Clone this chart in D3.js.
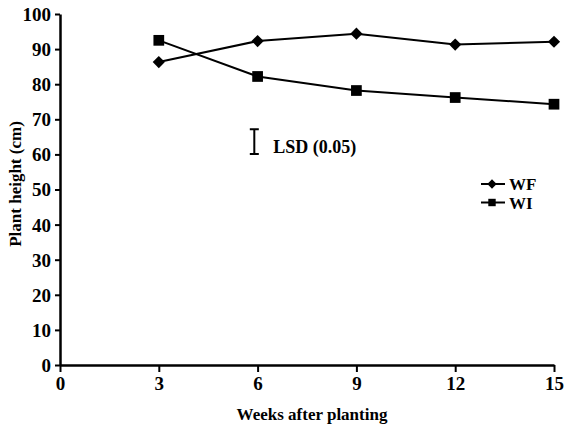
<!DOCTYPE html>
<html>
<head>
<meta charset="utf-8">
<script src="https://cdn.jsdelivr.net/npm/d3@7"></script>
<style>
  body { margin: 0; background: #fff; }
  text { font-family: "Liberation Serif", "Times New Roman", serif; fill: #000; font-weight: bold; }
  .tick text { font-size: 19px; }
</style>
</head>
<body>
<div id="plot"></div>
<script>
const CANVAS_WIDTH  = 576;
const CANVAS_HEIGHT = 428;

const LEFT   = 60;
const RIGHT  = 554;
const TOP    = 14;
const BOTTOM = 365;

// data
const WEEKS     = [3, 6, 9, 12, 15];
const WF_VALUES = [86.3, 92.3, 94.4, 91.3, 92.1];
const WI_VALUES = [92.5, 82.2, 78.2, 76.2, 74.3];
const X_TICKS   = [0, 3, 6, 9, 12, 15];
const Y_TICKS   = [0, 10, 20, 30, 40, 50, 60, 70, 80, 90, 100];
const LSD_WEEK  = 5.9;
const LSD_RANGE = [60.1, 67.2];
const SERIES_NAMES = ["WF", "WI"];

var svg = d3.select("#plot")
            .append("svg")
            .attr("width", CANVAS_WIDTH)
            .attr("height", CANVAS_HEIGHT);

var xScale = d3.scaleLinear().domain([0, 15]).range([LEFT, RIGHT]);
var yScale = d3.scaleLinear().domain([0, 100]).range([BOTTOM, TOP]);

// axes
var xAxis = svg.append("g")
   .attr("transform", "translate(0," + BOTTOM + ")")
   .call(d3.axisBottom(xScale).tickValues(X_TICKS).tickSize(7).tickPadding(3).tickSizeOuter(0));
var yAxis = svg.append("g")
   .attr("transform", "translate(" + LEFT + ",0)")
   .call(d3.axisLeft(yScale).tickValues(Y_TICKS).tickSize(5).tickPadding(4).tickSizeOuter(0));

[xAxis, yAxis].forEach(function(a) {
    a.attr("font-family", null).attr("font-size", 19).attr("font-weight", "bold");
    a.select(".domain").attr("stroke", "#000").attr("stroke-width", 2.5);
    a.selectAll(".tick line").attr("stroke", "#000").attr("stroke-width", 2);
});
yAxis.selectAll(".tick text").attr("dy", "0.34em");
xAxis.selectAll(".tick text").attr("dy", "0.78em");

// series
var line = d3.line()
             .x(function(d, i) { return xScale(WEEKS[i]); })
             .y(function(d) { return yScale(d); });

svg.append("path").datum(WF_VALUES)
   .attr("d", line).attr("fill", "none").attr("stroke", "#000").attr("stroke-width", 2);
svg.append("path").datum(WI_VALUES)
   .attr("d", line).attr("fill", "none").attr("stroke", "#000").attr("stroke-width", 2);

var diamond = d3.symbol().type(d3.symbolDiamond2).size(95);
var square  = d3.symbol().type(d3.symbolSquare).size(115);

svg.selectAll(".wf-pt")
   .data(WF_VALUES).enter()
   .append("path")
   .attr("class", "wf-pt")
   .attr("d", diamond)
   .attr("transform", function(d, i) { return "translate(" + xScale(WEEKS[i]) + "," + yScale(d) + ")"; });

svg.selectAll(".wi-pt")
   .data(WI_VALUES).enter()
   .append("path")
   .attr("class", "wi-pt")
   .attr("d", square)
   .attr("transform", function(d, i) { return "translate(" + xScale(WEEKS[i]) + "," + yScale(d) + ")"; });

// LSD bar
var lx = xScale(LSD_WEEK);
svg.append("path")
   .attr("d", "M" + (lx - 4.5) + "," + yScale(LSD_RANGE[1]) + "H" + (lx + 4.5) +
              "M" + lx + "," + yScale(LSD_RANGE[1]) + "V" + yScale(LSD_RANGE[0]) +
              "M" + (lx - 4.5) + "," + yScale(LSD_RANGE[0]) + "H" + (lx + 4.5))
   .attr("stroke", "#000").attr("stroke-width", 2).attr("fill", "none");
svg.append("text")
   .attr("x", lx + 19)
   .attr("y", yScale(LSD_RANGE[0]) - 1)
   .style("font-size", "18px")
   .text("LSD (0.05)");

// legend
var legendSyms = [d3.symbol().type(d3.symbolDiamond2).size(55),
                  d3.symbol().type(d3.symbolSquare).size(55)];
SERIES_NAMES.forEach(function(name, i) {
    var ly = 184 + i * 18.5;
    svg.append("line")
       .attr("x1", 481).attr("x2", 505).attr("y1", ly).attr("y2", ly)
       .attr("stroke", "#000").attr("stroke-width", 2);
    svg.append("path")
       .attr("d", legendSyms[i])
       .attr("transform", "translate(492," + ly + ")");
    svg.append("text")
       .attr("x", 509).attr("y", ly + 6)
       .style("font-size", "17px")
       .text(name);
});

// axis titles
svg.append("text")
   .attr("text-anchor", "middle")
   .attr("x", 312).attr("y", 420)
   .style("font-size", "17px")
   .text("Weeks after planting");
svg.append("text")
   .attr("text-anchor", "middle")
   .attr("transform", "translate(21,184) rotate(-90)")
   .style("font-size", "17px")
   .text("Plant height (cm)");
</script>
</body>
</html>
